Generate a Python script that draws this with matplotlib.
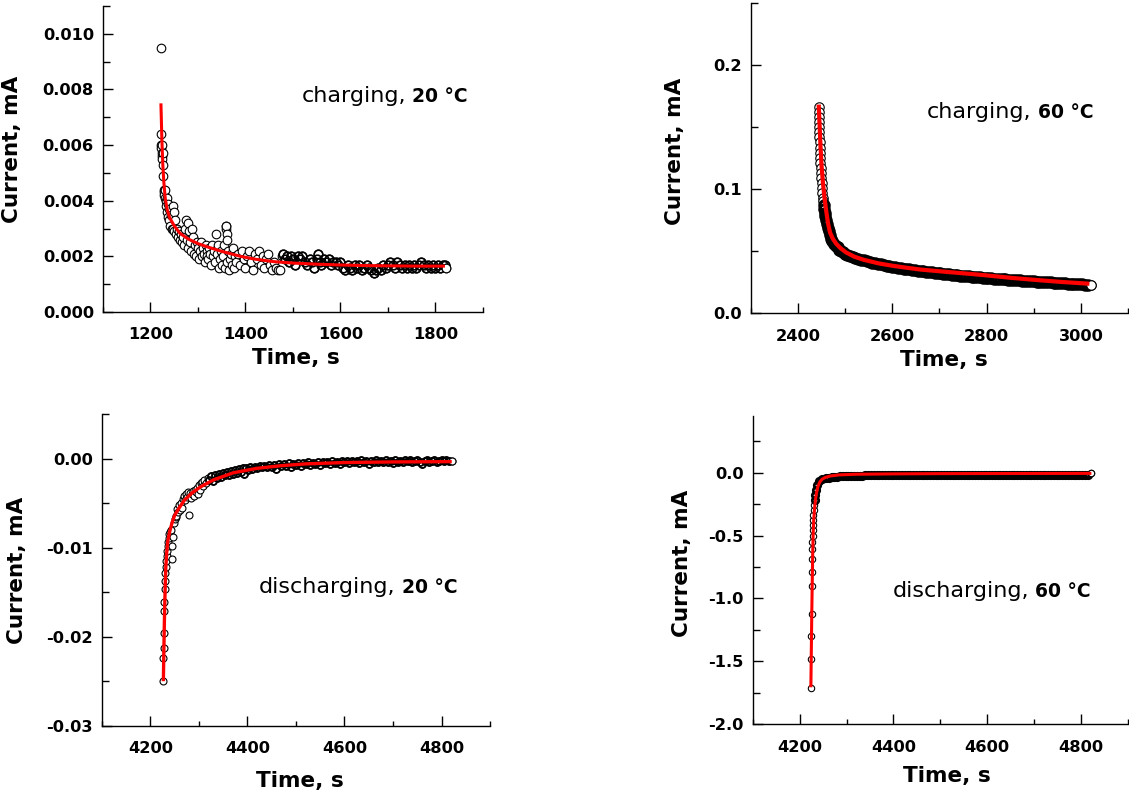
import matplotlib
matplotlib.use("Agg")
import matplotlib.pyplot as plt
from matplotlib.ticker import FixedLocator, FixedFormatter, MultipleLocator

plt.rcParams['font.family'] = ['DejaVu Sans']
plt.rcParams['axes.unicode_minus'] = False

# ---------------- data: charging, 20 C ----------------
t_c20 = [1222, 1222, 1222.5, 1223, 1224, 1224, 1225, 1225, 1226, 1226,
         1227, 1228, 1228, 1229, 1230, 1231, 1232, 1233, 1234, 1235,
         1236, 1237, 1238, 1240, 1241, 1243, 1245, 1247, 1248, 1249,
         1250, 1252, 1254, 1256, 1258, 1260, 1262, 1264, 1266, 1268,
         1270, 1272, 1274, 1276, 1278, 1280, 1282, 1284, 1286, 1288,
         1290, 1292, 1294, 1296, 1298, 1300, 1302, 1304, 1306, 1308,
         1310, 1312, 1314, 1316, 1318, 1320, 1322, 1324, 1326, 1328,
         1330, 1332, 1334, 1336, 1338, 1340, 1342, 1344, 1346, 1348,
         1350, 1352, 1354, 1356, 1358, 1359, 1360, 1361, 1362, 1362,
         1364, 1366, 1368, 1370, 1372, 1374, 1376, 1378, 1380, 1384,
         1388, 1392, 1396, 1400, 1404, 1408, 1412, 1416, 1420, 1424,
         1428, 1432, 1436, 1440, 1444, 1448, 1452, 1456, 1460, 1464,
         1468, 1472, 1476, 1480, 1484, 1488, 1492, 1496, 1500, 1505,
         1510, 1515, 1520, 1525, 1530, 1535, 1540, 1545, 1550, 1553,
         1556, 1560, 1565, 1570, 1575, 1580, 1585, 1590, 1595, 1600,
         1605, 1610, 1615, 1620, 1625, 1630, 1635, 1640, 1645, 1650,
         1655, 1660, 1665, 1670, 1675, 1680, 1685, 1690, 1695, 1700,
         1705, 1710, 1715, 1720, 1725, 1730, 1735, 1740, 1745, 1750,
         1755, 1760, 1765, 1770, 1775, 1780, 1785, 1790, 1795, 1800,
         1805, 1810, 1815, 1820, 1822]
i_c20 = [0.0095, 0.0064, 0.0060, 0.0059, 0.0060, 0.0057, 0.0056, 0.0055, 0.0057, 0.0053,
         0.0049, 0.0044, 0.0043, 0.0042, 0.0041, 0.0044, 0.0040, 0.0038, 0.0036, 0.0041,
         0.0034, 0.0039, 0.0033, 0.0037, 0.0031, 0.0035, 0.0030, 0.0038, 0.0030, 0.0036,
         0.0029, 0.0033, 0.0028, 0.0030, 0.0027, 0.0029, 0.0026, 0.0028, 0.0025, 0.0027,
         0.0024, 0.0030, 0.0033, 0.0026, 0.0023, 0.0032, 0.0029, 0.0025, 0.0022, 0.0030,
         0.0027, 0.0021, 0.0024, 0.0020, 0.0025, 0.0023, 0.0019, 0.0022, 0.0025, 0.0020,
         0.0023, 0.0021, 0.0018, 0.0024, 0.0022, 0.0020, 0.0019, 0.0023, 0.0021, 0.0017,
         0.0024, 0.0020, 0.0022, 0.0018, 0.0028, 0.0021, 0.0024, 0.0016, 0.0019, 0.0022,
         0.0017, 0.0020, 0.0024, 0.0016, 0.0031, 0.0030, 0.0031, 0.0028, 0.0026, 0.0018,
         0.0022, 0.0015, 0.0019, 0.0021, 0.0017, 0.0023, 0.0016, 0.0020, 0.0018, 0.0021,
         0.0017, 0.0022, 0.0019, 0.0016, 0.0020, 0.0022, 0.0018, 0.0015, 0.0021, 0.0019,
         0.0022, 0.0017, 0.0020, 0.0016, 0.0019, 0.0021, 0.0017, 0.0015, 0.0018, 0.0016,
         0.0015, 0.0015, 0.0020, 0.0021, 0.0019, 0.0020, 0.0018, 0.0020, 0.0019, 0.0017,
         0.0020, 0.0019, 0.0020, 0.0018, 0.0017, 0.0019, 0.0018, 0.0016, 0.0019, 0.0021,
         0.0018, 0.0017, 0.0019, 0.0018, 0.0019, 0.0017, 0.0018, 0.0018, 0.0017, 0.0018,
         0.0016, 0.0015, 0.0017, 0.0016, 0.0015, 0.0017, 0.0016, 0.0017, 0.0015, 0.0016,
         0.0017, 0.0016, 0.0015, 0.0014, 0.0015, 0.0016, 0.0015, 0.0017, 0.0016, 0.0017,
         0.0018, 0.0017, 0.0016, 0.0018, 0.0017, 0.0016, 0.0017, 0.0016, 0.0017, 0.0016,
         0.0017, 0.0016, 0.0017, 0.0018, 0.0017, 0.0016, 0.0017, 0.0016, 0.0017, 0.0016,
         0.0017, 0.0016, 0.0017, 0.0017, 0.0016]
fit_t_c20 = [1222, 1224, 1226, 1228, 1231, 1235, 1240, 1250, 1262, 1280, 1300, 1320,
             1350, 1390, 1420, 1460, 1500, 1550, 1600, 1650, 1700, 1760, 1820]
fit_i_c20 = [0.0075, 0.0062, 0.0053, 0.0047, 0.0041, 0.0037, 0.0034, 0.0031, 0.00283,
             0.00262, 0.00246, 0.00234, 0.00218, 0.00200, 0.00190, 0.00181, 0.00176,
             0.00172, 0.00169, 0.00167, 0.00166, 0.00165, 0.00165]

# ---------------- data: charging, 60 C ----------------
t_c60 = [2444, 2444, 2444.5, 2445, 2444.5, 2445, 2445.5, 2446, 2446, 2446.5,
         2447, 2447.5, 2448, 2448.5, 2449, 2450, 2451, 2452, 2453, 2454,
         2455, 2456, 2457, 2458, 2460, 2461, 2463, 2465, 2467, 2470,
         2473, 2476, 2480, 2484, 2488, 2492, 2496, 2500, 2505, 2510,
         2516, 2522, 2528, 2534, 2540, 2546, 2552, 2558, 2564, 2570,
         2576, 2582, 2588, 2594, 2600, 2606, 2612, 2618, 2624, 2630,
         2636, 2642, 2648, 2654, 2660, 2666, 2672, 2678, 2684, 2690,
         2696, 2702, 2708, 2714, 2720, 2726, 2732, 2738, 2744, 2750,
         2756, 2762, 2768, 2774, 2780, 2786, 2792, 2798, 2804, 2810,
         2816, 2822, 2828, 2834, 2840, 2846, 2852, 2858, 2864, 2870,
         2876, 2882, 2888, 2894, 2900, 2906, 2912, 2918, 2924, 2930,
         2936, 2942, 2948, 2954, 2960, 2966, 2972, 2978, 2984, 2990,
         2996, 3002, 3008, 3014, 3021]
i_c60 = [0.166, 0.162, 0.158, 0.154, 0.150, 0.146, 0.142, 0.138, 0.133, 0.129,
         0.125, 0.121, 0.117, 0.113, 0.109, 0.105, 0.101, 0.097, 0.093, 0.090,
         0.087, 0.084, 0.081, 0.078, 0.075, 0.072, 0.069, 0.066, 0.063, 0.060,
         0.058, 0.056, 0.054, 0.053, 0.051, 0.050, 0.049, 0.048, 0.0468, 0.0460,
         0.0452, 0.0445, 0.0438, 0.0431, 0.0425, 0.0419, 0.0413, 0.0408, 0.0403, 0.0398,
         0.0393, 0.0388, 0.0384, 0.0380, 0.0376, 0.0372, 0.0368, 0.0364, 0.0360, 0.0357,
         0.0353, 0.0350, 0.0347, 0.0344, 0.0341, 0.0338, 0.0335, 0.0332, 0.0329, 0.0326,
         0.0324, 0.0321, 0.0319, 0.0316, 0.0314, 0.0311, 0.0309, 0.0307, 0.0304, 0.0302,
         0.0300, 0.0298, 0.0296, 0.0294, 0.0292, 0.0290, 0.0288, 0.0286, 0.0284, 0.0282,
         0.0280, 0.0278, 0.0277, 0.0275, 0.0273, 0.0271, 0.0270, 0.0268, 0.0266, 0.0265,
         0.0263, 0.0262, 0.0260, 0.0258, 0.0257, 0.0255, 0.0254, 0.0252, 0.0251, 0.0249,
         0.0248, 0.0246, 0.0245, 0.0244, 0.0242, 0.0241, 0.0239, 0.0238, 0.0237, 0.0235,
         0.0234, 0.0233, 0.0231, 0.0230, 0.0227]
fit_t_c60 = [2444, 2446, 2448, 2450, 2453, 2456, 2460, 2464, 2468, 2474, 2481, 2490,
             2502, 2520, 2540, 2572, 2600, 2628, 2660, 2713, 2769, 2800, 2853, 2909,
             2960, 3018]
fit_i_c60 = [0.168, 0.150, 0.133, 0.119, 0.105, 0.094, 0.082, 0.072, 0.065, 0.060,
             0.056, 0.0525, 0.0490, 0.0455, 0.0430, 0.0401, 0.0383, 0.0368, 0.0352,
             0.0334, 0.0316, 0.0305, 0.0285, 0.0267, 0.0252, 0.0238]

# ---------------- data: discharging, 20 C ----------------
t_d20 = [4227, 4227, 4227.5, 4228, 4228.5, 4229, 4229.5, 4230, 4231, 4232,
         4233, 4234, 4235, 4236, 4237, 4238, 4239, 4240, 4242, 4244,
         4245, 4246, 4248, 4250, 4252, 4254, 4256, 4258, 4260, 4262,
         4264, 4266, 4268, 4270, 4272, 4274, 4276, 4278, 4280, 4282,
         4284, 4286, 4288, 4290, 4292, 4294, 4296, 4298, 4300, 4302,
         4304, 4306, 4308, 4310, 4314, 4318, 4322, 4326, 4330, 4334,
         4338, 4342, 4346, 4350, 4354, 4358, 4362, 4366, 4370, 4374,
         4378, 4382, 4386, 4390, 4394, 4398, 4402, 4406, 4410, 4415,
         4420, 4425, 4430, 4435, 4440, 4445, 4450, 4455, 4460, 4465,
         4470, 4475, 4480, 4485, 4490, 4495, 4500, 4505, 4510, 4515,
         4520, 4525, 4530, 4535, 4540, 4545, 4550, 4555, 4560, 4565,
         4570, 4575, 4580, 4585, 4590, 4595, 4600, 4605, 4610, 4615,
         4620, 4625, 4630, 4635, 4640, 4645, 4650, 4655, 4660, 4665,
         4670, 4675, 4680, 4685, 4690, 4695, 4700, 4705, 4710, 4715,
         4720, 4725, 4730, 4735, 4740, 4745, 4750, 4755, 4760, 4765,
         4770, 4775, 4780, 4785, 4790, 4795, 4800, 4805, 4810, 4815,
         4821]
i_d20 = [-0.0250, -0.0224, -0.0213, -0.0196, -0.0171, -0.0161, -0.0146, -0.0137, -0.0128, -0.0122,
         -0.0115, -0.0110, -0.0104, -0.0098, -0.0094, -0.0089, -0.0085, -0.0082, -0.0080, -0.0098,
         -0.0113, -0.0088, -0.0072, -0.0068, -0.0066, -0.0064, -0.0057, -0.0060, -0.0052, -0.0058,
         -0.0050, -0.0055, -0.0045, -0.0042, -0.0047, -0.0040, -0.0043, -0.0038, -0.0063, -0.0039,
         -0.0044, -0.0040, -0.0036, -0.0042, -0.0035, -0.0038, -0.0033, -0.0040, -0.0030, -0.0035,
         -0.0028, -0.0026, -0.0031, -0.0024, -0.0027, -0.0022, -0.0024, -0.0020, -0.0025, -0.0019,
         -0.0022, -0.0017, -0.0021, -0.0016, -0.0019, -0.0015, -0.0018, -0.0014, -0.0017, -0.0013,
         -0.0016, -0.0012, -0.0015, -0.0011, -0.0017, -0.0011, -0.0013, -0.0010, -0.0012, -0.0009,
         -0.0011, -0.0008, -0.0010, -0.0008, -0.0009, -0.0007, -0.0010, -0.0007, -0.0012, -0.0006,
         -0.0008, -0.0006, -0.0008, -0.0005, -0.0009, -0.0006, -0.0007, -0.0005, -0.0008, -0.0005,
         -0.0006, -0.0004, -0.0007, -0.0005, -0.0006, -0.0004, -0.0007, -0.0004, -0.0005, -0.0004,
         -0.0006, -0.0003, -0.0005, -0.0004, -0.0006, -0.0003, -0.0004, -0.0003, -0.0005, -0.0003,
         -0.0004, -0.0003, -0.0005, -0.0002, -0.0004, -0.0003, -0.0006, -0.0003, -0.0004, -0.0002,
         -0.0004, -0.0003, -0.0004, -0.0002, -0.0004, -0.0003, -0.0005, -0.0002, -0.0004, -0.0003,
         -0.0004, -0.0002, -0.0003, -0.0002, -0.0004, -0.0003, -0.0002, -0.0004, -0.0006, -0.0003,
         -0.0002, -0.0004, -0.0003, -0.0002, -0.0004, -0.0003, -0.0002, -0.0003, -0.0002, -0.0003,
         -0.0003]
fit_t_d20 = [4227, 4228, 4229, 4230, 4231, 4232, 4234, 4236, 4240, 4245, 4250, 4260,
             4270, 4285, 4303, 4330, 4371, 4420, 4470, 4520, 4600, 4700, 4821]
fit_i_d20 = [-0.0250, -0.0215, -0.0185, -0.0160, -0.0140, -0.0122, -0.0105, -0.0093,
             -0.0082, -0.0072, -0.0064, -0.0055, -0.0047, -0.0039, -0.0032, -0.0024,
             -0.0016, -0.0011, -0.0008, -0.0006, -0.00045, -0.00038, -0.00035]

# ---------------- data: discharging, 60 C ----------------
t_d60 = [4224, 4225, 4225, 4225.5, 4226, 4226, 4226.5, 4227, 4227, 4227.5,
         4228, 4228, 4229, 4229, 4230, 4231, 4232, 4233, 4235, 4238,
         4242, 4248, 4256, 4262, 4268, 4274, 4280, 4286, 4292, 4298,
         4304, 4310, 4316, 4322, 4328, 4334, 4340, 4346, 4352, 4358,
         4364, 4370, 4376, 4382, 4388, 4394, 4400, 4406, 4412, 4418,
         4424, 4430, 4436, 4442, 4448, 4454, 4460, 4466, 4472, 4478,
         4484, 4490, 4496, 4502, 4508, 4514, 4520, 4526, 4532, 4538,
         4544, 4550, 4556, 4562, 4568, 4574, 4580, 4586, 4592, 4598,
         4604, 4610, 4616, 4622, 4628, 4634, 4640, 4646, 4652, 4658,
         4664, 4670, 4676, 4682, 4688, 4694, 4700, 4706, 4712, 4718,
         4724, 4730, 4736, 4742, 4748, 4754, 4760, 4766, 4772, 4778,
         4784, 4790, 4796, 4802, 4808, 4814, 4822]
i_d60 = [-1.71, -1.48, -1.30, -1.12, -0.90, -0.79, -0.69, -0.61, -0.55, -0.50,
         -0.46, -0.42, -0.38, -0.34, -0.30, -0.26, -0.22, -0.18, -0.14, -0.10,
         -0.07, -0.05, -0.045, -0.040, -0.036, -0.033, -0.031, -0.029, -0.028, -0.027,
         -0.026, -0.025, -0.024, -0.024, -0.023, -0.023, -0.022, -0.022, -0.021, -0.021,
         -0.021, -0.020, -0.020, -0.020, -0.019, -0.019, -0.019, -0.019, -0.018, -0.018,
         -0.018, -0.018, -0.018, -0.017, -0.017, -0.017, -0.017, -0.017, -0.017, -0.016,
         -0.016, -0.016, -0.016, -0.016, -0.016, -0.016, -0.016, -0.016, -0.016, -0.016,
         -0.016, -0.016, -0.016, -0.016, -0.016, -0.016, -0.016, -0.016, -0.016, -0.016,
         -0.015, -0.015, -0.015, -0.015, -0.015, -0.015, -0.015, -0.015, -0.015, -0.015,
         -0.015, -0.015, -0.015, -0.015, -0.015, -0.015, -0.015, -0.015, -0.015, -0.015,
         -0.015, -0.015, -0.015, -0.015, -0.015, -0.015, -0.015, -0.015, -0.015, -0.015,
         -0.015, -0.015, -0.015, -0.015, -0.015, -0.015, -0.005]
fit_t_d60 = [4224, 4225, 4226, 4227, 4228, 4229, 4230, 4232, 4234, 4236, 4239, 4243,
             4248, 4255, 4265, 4284, 4320, 4400, 4500, 4650, 4822]
fit_i_d60 = [-1.706, -1.40, -1.10, -0.85, -0.62, -0.48, -0.38, -0.28, -0.21, -0.16,
             -0.11, -0.075, -0.052, -0.038, -0.027, -0.018, -0.013, -0.010, -0.008,
             -0.007, -0.006]

# ---------------- axis settings ----------------
xticks_top_left = [1200, 1400, 1600, 1800]
xticks_top_right = [2400, 2600, 2800, 3000]
xticks_bottom = [4200, 4400, 4600, 4800]
yticks_c20 = [0.000, 0.002, 0.004, 0.006, 0.008, 0.010]
ylabels_c20 = ["0.000", "0.002", "0.004", "0.006", "0.008", "0.010"]
yticks_c60 = [0.0, 0.1, 0.2]
ylabels_c60 = ["0.0", "0.1", "0.2"]
yticks_d20 = [-0.03, -0.02, -0.01, 0.0]
ylabels_d20 = ["-0.03", "-0.02", "-0.01", "0.00"]
yticks_d60 = [-2.0, -1.5, -1.0, -0.5, 0.0]
ylabels_d60 = ["-2.0", "-1.5", "-1.0", "-0.5", "0.0"]

fig = plt.figure(figsize=(11.29, 7.98), dpi=100)

panels = [
    dict(rect=[0.0912, 0.609, 0.3366, 0.3835], t=t_c20, i=i_c20, ft=fit_t_c20, fi=fit_i_c20,
         xlim=(1100, 1900), ylim=(0, 0.011), xt=xticks_top_left, yt=yticks_c20, yl=ylabels_c20,
         xminor=100, yminor=0.001, ms=6.2, lw=2.2, dense_from=1478, dms=6.2, dmew=1.2,
         txt=("charging,", "20 °C"), tpos=(0.9605, 0.687),
         ylc=(-0.212, 0.53), xlc=(0.507, -0.118)),
    dict(rect=[0.665, 0.6074, 0.3342, 0.3892], t=t_c60, i=i_c60, ft=fit_t_c60, fi=fit_i_c60,
         xlim=(2300, 3100), ylim=(0, 0.25), xt=xticks_top_right, yt=yticks_c60, yl=ylabels_c60,
         xminor=100, yminor=0.05, ms=6.8, lw=3.0, dense_from=2455, dms=6.8, dmew=2.2,
         txt=("charging,", "60 °C"), tpos=(0.908, 0.628),
         ylc=(-0.174, 0.52), xlc=(0.513, -0.118)),
    dict(rect=[0.0901, 0.0906, 0.344, 0.3906], t=t_d20, i=i_d20, ft=fit_t_d20, fi=fit_i_d20,
         xlim=(4100, 4900), ylim=(-0.03, 0.005), xt=xticks_bottom, yt=yticks_d20, yl=ylabels_d20,
         xminor=100, yminor=0.005, ms=5.0, lw=2.4, dense_from=4320, dms=5.0, dmew=1.3,
         txt=("discharging,", "20 °C"), tpos=(0.916, 0.4267),
         ylc=(-0.193, 0.497), xlc=(0.509, -0.144)),
    dict(rect=[0.6667, 0.0924, 0.3324, 0.3863], t=t_d60, i=i_d60, ft=fit_t_d60, fi=fit_i_d60,
         xlim=(4100, 4900), ylim=(-2.0, 0.45), xt=xticks_bottom, yt=yticks_d60, yl=ylabels_d60,
         xminor=100, yminor=0.25, ms=4.6, lw=2.2, dense_from=4232, dms=4.6, dmew=2.0,
         txt=("discharging,", "60 °C"), tpos=(0.9006, 0.414),
         ylc=(-0.1625, 0.522), xlc=(0.517, -0.134)),
]

for p in panels:
    ax = fig.add_axes(p['rect'])
    ax.plot(p['t'], p['i'], linestyle='none', marker='o', markersize=p['ms'],
            markerfacecolor='white', markeredgecolor='black', markeredgewidth=0.8, zorder=2)
    if p['dense_from'] is not None:
        dt = [t for t in p['t'][:-1] if t >= p['dense_from']]
        di = [v for t, v in zip(p['t'][:-1], p['i'][:-1]) if t >= p['dense_from']]
        ax.plot(dt, di, linestyle='none', marker='o', markersize=p['dms'],
                markerfacecolor='none', markeredgecolor='black',
                markeredgewidth=p['dmew'], zorder=2.1)
        ax.plot(p['t'][-1:], p['i'][-1:], linestyle='none', marker='o', markersize=p['ms'],
                markerfacecolor='white', markeredgecolor='black', markeredgewidth=0.8,
                zorder=2.2)
    ax.plot(p['ft'], p['fi'], color='#ff0000', linewidth=p['lw'], zorder=3,
            solid_capstyle='butt')
    ax.set_xlim(*p['xlim'])
    ax.set_ylim(*p['ylim'])
    for s in ('top', 'right'):
        ax.spines[s].set_visible(False)
    for s in ('left', 'bottom'):
        ax.spines[s].set_linewidth(1.0)
    ax.xaxis.set_major_locator(FixedLocator(p['xt']))
    ax.xaxis.set_major_formatter(FixedFormatter([str(v) for v in p['xt']]))
    ax.xaxis.set_minor_locator(MultipleLocator(p['xminor']))
    ax.yaxis.set_major_locator(FixedLocator(p['yt']))
    ax.yaxis.set_major_formatter(FixedFormatter(p['yl']))
    ax.yaxis.set_minor_locator(MultipleLocator(p['yminor']))
    ax.tick_params(axis='both', which='both', direction='in', width=1.0)
    ax.tick_params(axis='both', which='major', length=7)
    ax.tick_params(axis='x', which='minor', length=3.5)
    ax.tick_params(axis='y', which='minor', length=5)
    ax.tick_params(axis='y', which='major', pad=6.5, labelsize=11.7)
    ax.tick_params(axis='x', which='major', pad=11, labelsize=11.7)
    for lab in ax.get_xticklabels() + ax.get_yticklabels():
        lab.set_fontweight('bold')
    ax.set_ylabel("Current, mA", fontsize=15.5, fontweight='bold')
    ax.set_xlabel("Time, s", fontsize=15.5, fontweight='bold')
    ax.yaxis.set_label_coords(*p['ylc'])
    ax.xaxis.set_label_coords(*p['xlc'])
    tb = ax.text(p['tpos'][0], p['tpos'][1], p['txt'][1], transform=ax.transAxes,
                 ha='right', va='baseline', fontsize=13.5, fontweight='bold')
    ax.annotate(p['txt'][0], xy=(0, 0), xycoords=tb, xytext=(-4.5, 0),
                textcoords='offset points', ha='right', va='bottom', fontsize=16)

fig.savefig("out.png", dpi=100)
